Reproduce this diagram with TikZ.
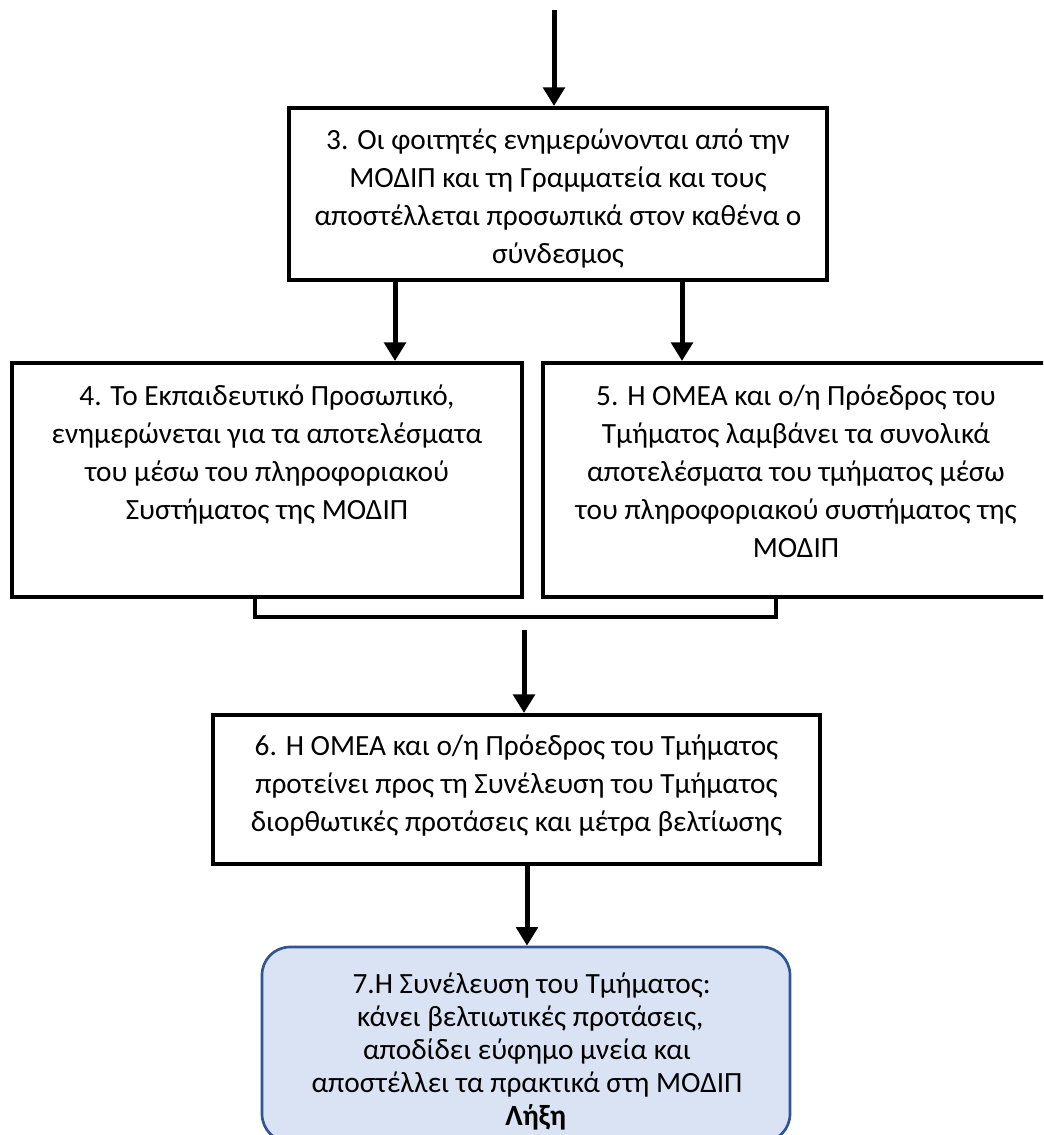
\documentclass[tikz,border=0pt]{standalone}
\usepackage{fontspec}
\setmainfont{Carlito}
\usetikzlibrary{arrows.meta}
\definecolor{bsevenfill}{HTML}{DAE3F3}
\definecolor{bsevenline}{HTML}{2F5597}
\begin{document}
\begin{tikzpicture}[x=0.75pt,y=-0.75pt,
  box/.style={draw=black, line width=3pt, rectangle, inner sep=0pt},
  arr/.style={line width=3.75pt, -{Triangle[width=16pt,length=14pt]}},
  txt/.style={font=\fontsize{22}{28.5}\selectfont, align=center, inner sep=0pt},
  txtseven/.style={font=\fontsize{22}{24.6}\selectfont, align=center, inner sep=0pt},
  bracketline/.style={line width=2.5pt},
  endbox/.style={draw=bsevenline, fill=bsevenfill, line width=2pt, rounded corners=21pt, inner sep=0pt}]
\useasboundingbox (0,0) rectangle (1043,1135);
\clip (0,0) rectangle (1043,1135);

% boxes
\node[box, minimum width=403.5pt, minimum height=129pt] (b3) at (558,194) {};
\node[txt] (t3) at (558,199)
  {3. Οι φοιτητές ενημερώνονται από την\\ΜΟΔΙΠ και τη Γραμματεία και τους\\αποστέλλεται προσωπικά στον καθένα ο\\σύνδεσμος};
\node[box, minimum width=382.5pt, minimum height=175.5pt] (b4) at (267,480) {};
\node[box, minimum width=379.5pt, minimum height=175.5pt] (b5) at (796,480) {};
\node[txt, anchor=north] (t4) at (267,385)
  {4. Το Εκπαιδευτικό Προσωπικό,\\ενημερώνεται για τα αποτελέσματα\\του μέσω του πληροφοριακού\\Συστήματος της ΜΟΔΙΠ};
\node[txt, anchor=north] (t5) at (796,385)
  {5. Η ΟΜΕΑ και ο/η Πρόεδρος του\\Τμήματος λαμβάνει τα συνολικά\\αποτελέσματα του τμήματος μέσω\\του πληροφοριακού συστήματος της\\ΜΟΔΙΠ};
\node[box, minimum width=455.25pt, minimum height=111.75pt] (b6) at (516.5,789.5) {};
\node[txt] (t6) at (516.5,786)
  {6. Η ΟΜΕΑ και ο/η Πρόεδρος του Τμήματος\\προτείνει προς τη Συνέλευση του Τμήματος\\διορθωτικές προτάσεις και μέτρα βελτίωσης};
\node[endbox, minimum width=396pt, minimum height=146.25pt] (b7) at (526,1044.5) {};
\node[txtseven, anchor=north] (t7) at (527,973)
  {\hspace*{7pt}7.Η Συνέλευση του Τμήματος:\\
   \hspace*{5pt}κάνει βελτιωτικές προτάσεις,\\
   αποδίδει εύφημο μνεία και\hspace*{40pt}\\
   αποστέλλει τα πρακτικά στη ΜΟΔΙΠ\\
   \hspace*{13pt}\textbf{Λήξη}};

% connectors
\coordinate (s0) at (554,10);
\draw[arr] (s0) -- (s0 |- b3.north);
\coordinate (a1) at (395,0);
\coordinate (a2) at (682,0);
\draw[arr] (b3.south -| a1) -- (b4.north -| a1);
\draw[arr] (b3.south -| a2) -- (b5.north -| a2);
\coordinate (k1) at (255,617);
\coordinate (k2) at (776,617);
\draw[bracketline] (b4.south -| k1) -- (k1) -- (k2) -- (b5.south -| k2);
\coordinate (s6) at (524,630);
\draw[arr] (s6) -- (s6 |- b6.north);
\coordinate (a7) at (527,0);
\draw[arr] (b6.south -| a7) -- (b7.north -| a7);
\end{tikzpicture}
\end{document}
